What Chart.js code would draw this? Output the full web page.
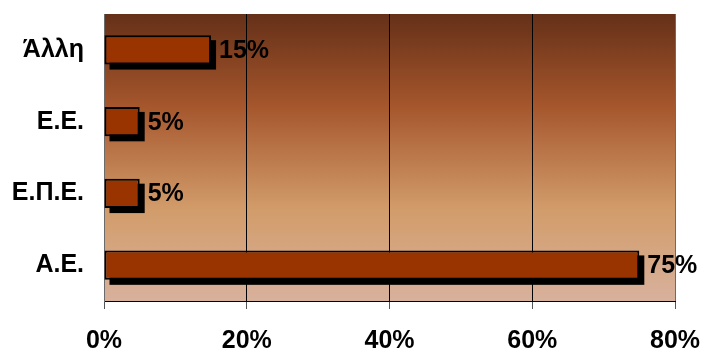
<!DOCTYPE html>
<html>
<head>
<meta charset="utf-8">
<script src="https://cdn.jsdelivr.net/npm/chart.js@4/dist/chart.umd.min.js"></script>
<style>
  html, body { margin: 0; padding: 0; background: #fff; }
  #wrap { width: 714px; height: 352px; }
</style>
</head>
<body>
<div id="wrap"><canvas id="legal-form-chart" width="714" height="352"></canvas></div>
<script>
// Chart data
var categories = ["Άλλη", "Ε.Ε.", "Ε.Π.Ε.", "Α.Ε."];
var shares = [15, 5, 5, 75];
var tickValues = [0, 20, 40, 60, 80];

var labelFont = { family: "'Liberation Sans', Arial, sans-serif", size: 25, weight: 'bold' };

// gradient background behind the bars
const plotBackground = {
    id: 'plotBackground',
    beforeDraw(chart) {
        const {ctx, chartArea: {top, bottom, left, right}} = chart;
        const grad = ctx.createLinearGradient(0, top, 0, bottom);
        grad.addColorStop(0, '#653018');
        grad.addColorStop(0.32, '#a5562c');
        grad.addColorStop(0.68, '#d29c6a');
        grad.addColorStop(1, '#d8b19c');
        ctx.save();
        ctx.fillStyle = grad;
        ctx.fillRect(left, top, right - left, bottom - top);
        ctx.restore();
    }
};

// black drop shadow under each bar
const barShadow = {
    id: 'barShadow',
    beforeDatasetsDraw(chart) {
        const ctx = chart.ctx;
        ctx.save();
        ctx.fillStyle = '#000';
        chart.getDatasetMeta(0).data.forEach((bar) => {
            const h = bar.height;
            ctx.fillRect(bar.base + 5, bar.y - h / 2 + 5, bar.x - bar.base, h);
        });
        ctx.restore();
    }
};

// value labels to the right of the bars
const valueLabels = {
    id: 'valueLabels',
    afterDatasetsDraw(chart) {
        const ctx = chart.ctx;
        ctx.save();
        ctx.font = 'bold 25px "Liberation Sans", Arial, sans-serif';
        ctx.fillStyle = '#000';
        ctx.textAlign = 'left';
        ctx.textBaseline = 'middle';
        chart.getDatasetMeta(0).data.forEach((bar, i) => {
            ctx.fillText(shares[i] + '%', bar.x + 8, bar.y + 1);
        });
        ctx.restore();
    }
};

var ctx = document.getElementById('legal-form-chart');

var chart = new Chart(ctx, {
    type: 'bar',
    data: {
        labels: categories,
        datasets: [{
            data: shares,
            backgroundColor: '#993300',
            borderColor: '#000',
            borderWidth: 2,
            borderSkipped: false,
            categoryPercentage: 1,
            barPercentage: 0.41
        }]
    },
    options: {
        indexAxis: 'y',
        responsive: false,
        animation: false,
        layout: { padding: { top: 14, right: 39, left: 0, bottom: 0 } },
        plugins: {
            legend: { display: false },
            tooltip: { enabled: false }
        },
        scales: {
            x: {
                min: 0,
                max: 80,
                afterBuildTicks(scale) {
                    scale.ticks = tickValues.map(v => ({ value: v }));
                },
                afterFit(scale) {
                    scale.height = 51;
                    scale.paddingLeft = 0;
                    scale.paddingRight = 0;
                },
                grid: {
                    color: (c) => (c.tick && (c.tick.value === 0 || c.tick.value === 80)) ? '#6b6b6b' : '#000',
                    lineWidth: 1,
                    drawTicks: true,
                    tickLength: 8,
                    tickColor: '#555'
                },
                border: { display: true, color: '#000', width: 1 },
                ticks: {
                    padding: 17,
                    color: '#000',
                    font: labelFont,
                    callback: (v) => v + '%'
                }
            },
            y: {
                afterFit(scale) {
                    scale.width = 104;
                    scale.paddingTop = 0;
                    scale.paddingBottom = 0;
                },
                grid: { display: false, drawTicks: false },
                border: { display: true, color: '#6b6b6b', width: 1 },
                ticks: {
                    padding: 20,
                    color: '#000',
                    font: labelFont
                }
            }
        }
    },
    plugins: [plotBackground, barShadow, valueLabels]
});
</script>
</body>
</html>
